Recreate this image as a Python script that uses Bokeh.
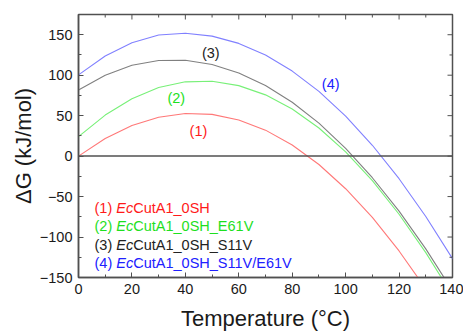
import math
from bokeh.plotting import figure
from bokeh.models import SingleIntervalTicker, Span
from bokeh.core.properties import value
from bokeh.embed import file_html
from bokeh.resources import INLINE

# ---- data ----
temperature = [0, 10, 20, 30, 40, 50, 60, 70, 80, 90, 100, 110, 120, 130, 140]
dg_1 = [0.0, 21.7, 37.8, 48.1, 52.7, 51.6, 44.7, 32.1, 13.7, -10.4, -40.3, -75.8, -117.2, -164.0, -217.0]
dg_2 = [24.0, 50.7, 71.0, 84.7, 91.8, 92.5, 87.1, 75.7, 58.2, 34.7, 5.2, -30.3, -71.8, -119.3, -172.0]
dg_3 = [81.8, 100.0, 112.2, 118.2, 118.4, 113.2, 102.8, 87.3, 66.6, 40.7, 9.6, -26.7, -68.0, -114.6, -166.4]
dg_4 = [100.4, 123.8, 140.2, 149.6, 151.9, 148.3, 139.3, 124.9, 105.1, 80.0, 49.4, 13.4, -27.9, -74.6, -126.7]

curve_tags = ["(1)", "(2)", "(3)", "(4)"]
legend_prefix = ["(1) ", "(2) ", "(3) ", "(4) "]
legend_italic = ["Ec", "Ec", "Ec", "Ec"]
legend_suffix = ["CutA1_0SH", "CutA1_0SH_E61V", "CutA1_0SH_S11V", "CutA1_0SH_S11V/E61V"]

x_ticks_major = [0, 20, 40, 60, 80, 100, 120, 140]
x_ticks_minor = [10, 30, 50, 70, 90, 110, 130]
y_ticks_major = [-150, -100, -50, 0, 50, 100, 150]
y_ticks_minor = [-125, -75, -25, 25, 75, 125]

line_colors = ["#ff7878", "#78f078", "#808080", "#8080ff"]
text_colors = ["#ff1a1a", "#1ee01e", "#222222", "#2020ff"]
AX = "#505050"

FONT = "Liberation Sans"
FS = "14.5px"

X0, X1, Y0, Y1 = 0, 140, -150, 175

p = figure(width=463, height=334, x_range=(X0, X1), y_range=(Y0, Y1),
           output_backend="svg", toolbar_location=None,
           min_border_left=78, min_border_right=11, min_border_top=14, min_border_bottom=57)
p.xgrid.visible = False
p.ygrid.visible = False
p.outline_line_color = AX
p.outline_line_width = 1.5
p.background_fill_color = "white"
p.border_fill_color = "white"

series = [dg_1, dg_2, dg_3, dg_4]
for ys, c in zip(series, line_colors):
    p.line(temperature, ys, line_color=c, line_width=1.1)

p.add_layout(Span(location=0, dimension="width", line_color=AX, line_width=1.5))

# bottom / left axes (inside ticks)
for ax, interval in ((p.xaxis[0], 20), (p.yaxis[0], 50)):
    ax.ticker = SingleIntervalTicker(interval=interval, num_minor_ticks=2)
    ax.axis_line_color = AX
    ax.axis_line_width = 1.5
    ax.major_tick_in = 5
    ax.major_tick_out = 0
    ax.minor_tick_in = 3
    ax.minor_tick_out = 0
    ax.major_tick_line_color = AX
    ax.minor_tick_line_color = AX
    ax.major_label_text_font = FONT
    ax.major_label_text_font_size = FS
    ax.major_label_text_color = "#1a1a1a"
    ax.axis_label_text_font = FONT
    ax.axis_label_text_font_size = "22px"
    ax.axis_label_text_font_style = "normal"
    ax.axis_label_text_color = "#1a1a1a"

p.xaxis[0].major_label_standoff = 6
p.xaxis[0].axis_label = "Temperature (°C)"
p.xaxis[0].axis_label_standoff = 9

p.yaxis[0].major_label_standoff = 6
p.yaxis[0].axis_label = "ΔG (kJ/mol)"
p.yaxis[0].axis_label_standoff = 1

# mirrored inside ticks on top and right edges
p.ray(x=x_ticks_major, y=[Y1] * len(x_ticks_major), length=5, length_units="screen",
      angle=-math.pi / 2, line_color=AX, line_width=1)
p.ray(x=x_ticks_minor, y=[Y1] * len(x_ticks_minor), length=3, length_units="screen",
      angle=-math.pi / 2, line_color=AX, line_width=1)
p.ray(x=[X1] * len(y_ticks_major), y=y_ticks_major, length=5, length_units="screen",
      angle=math.pi, line_color=AX, line_width=1)
p.ray(x=[X1] * len(y_ticks_minor), y=y_ticks_minor, length=3, length_units="screen",
      angle=math.pi, line_color=AX, line_width=1)

# curve tags
tag_x = [44.9, 36.6, 49.5, 94.4]
tag_y = [31.5, 71.5, 127.0, 89.0]
p.text(x=tag_x, y=tag_y, text=curve_tags, text_color=text_colors,
       text_font=value(FONT), text_font_size=FS,
       text_align="center", text_baseline="middle")

# legend text
leg_x = [6.0] * 4
leg_y = [-64.0, -86.7, -109.4, -132.2]
w_prefix = 1.5 * 14.5          # "(n) " in Arial metrics
w_ec = 1.167 * 14.5            # italic "Ec"
p.text(x=leg_x, y=leg_y, text=legend_prefix, text_color=text_colors,
       text_font=value(FONT), text_font_size=FS, text_baseline="middle")
p.text(x=leg_x, y=leg_y, text=legend_italic, text_color=text_colors,
       text_font=value(FONT), text_font_size=FS, text_font_style="italic",
       text_baseline="middle", x_offset=w_prefix)
p.text(x=leg_x, y=leg_y, text=legend_suffix, text_color=text_colors,
       text_font=value(FONT), text_font_size=FS, text_baseline="middle",
       x_offset=w_prefix + w_ec)

open("out.html", "w").write(file_html(p, INLINE))
